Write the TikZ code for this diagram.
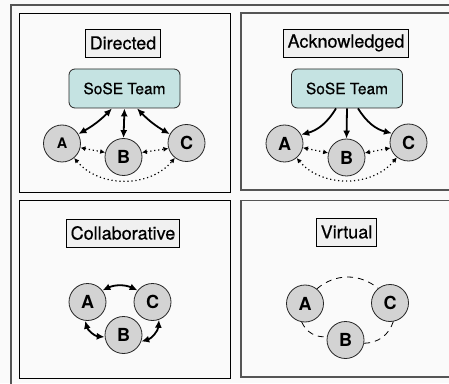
\documentclass[tikz,border=0pt]{standalone}
\usepackage{fontspec}
\setmainfont{TeX Gyre Heros}
\newfontfamily\lblfont{TeX Gyre Heros}[FakeBold=0.5]
\usetikzlibrary{arrows.meta}
\definecolor{bgc}{HTML}{FAFAFA}
\definecolor{lblfill}{HTML}{F0F0F0}
\definecolor{tealfill}{HTML}{C5E3E2}
\definecolor{circfill}{HTML}{D3D3D3}
\definecolor{frameg}{HTML}{555555}
\tikzset{
  panelk/.style={draw=black, line width=0.8pt, fill=bgc},
  panelg/.style={draw=frameg, line width=1.6pt, fill=bgc},
  lbl/.style={draw=black, line width=0.7pt, fill=lblfill, font=\lblfont\fontsize{18}{20}\selectfont,
    minimum height=28pt, inner xsep=4pt, inner ysep=0pt},
  team/.style={draw=black!85, line width=0.8pt, fill=tealfill, rounded corners=6pt,
    minimum width=111pt, minimum height=39pt, inner sep=0pt, font=\lblfont\fontsize{15.5}{17}\selectfont},
  sys/.style={circle, draw=black!85, line width=0.8pt, fill=circfill, minimum size=37pt,
    inner sep=0pt, font=\bfseries\fontsize{18}{20}\selectfont},
  both/.style={line width=1.8pt, {Latex[length=8pt,width=7pt]}-{Latex[length=8pt,width=7pt]}},
  one/.style={line width=1.8pt, -{Latex[length=8pt,width=7pt]}},
  dots/.style={line width=1.2pt, dash pattern=on 1.2pt off 2.8pt,
    {Latex[length=5pt,width=5pt]}-{Latex[length=5pt,width=5pt]}},
  dash4/.style={line width=0.8pt, dash pattern=on 6pt off 5pt},
  outerframe/.style={draw=frameg, line width=1.4pt}
}
\begin{document}
\begin{tikzpicture}[x=1pt,y=1pt]
\path[use as bounding box, fill=bgc] (0,0) rectangle (449,383);
\clip (0,0) rectangle (449,383);
\draw[outerframe] (11,-10) |- (470,378);
% panels
\draw[panelk] (19,191) rectangle (230,370);
\draw[panelg] (241,193) rectangle (470,370);
\draw[panelk] (19,5) rectangle (230,182.5);
\draw[panelg] (241,6) rectangle (470,182.5);

% ---- Directed
\node[lbl] (ldir) at (123,340) {Directed};
\node[team] (t1) at (124.5,294.5) {SoSE Team};
\node[sys, font=\bfseries\fontsize{14.5}{16}\selectfont] (A1) at (62,239.5) {A};
\node[sys] (B1) at (123.5,226) {B};
\node[sys] (C1) at (186.5,240) {C};
\draw[both] ([xshift=-12.5pt]t1.south) to[bend left=8] (A1.30);
\draw[both] (t1.south) -- (B1.north);
\draw[both] ([xshift=12.5pt]t1.south) to[bend right=8] (C1.152);
\draw[dots] (A1.-13) -- (B1.166);
\draw[dots] (B1.14) -- (C1.-163);
\draw[dots] (A1.-50) to[bend right=50] (C1.-128);

% ---- Acknowledged
\node[lbl] (lack) at (346,340) {Acknowledged};
\node[team] (t2) at (347,294.5) {SoSE Team};
\node[sys] (A2) at (284.5,239.5) {A};
\node[sys] (B2) at (346.5,225.5) {B};
\node[sys] (C2) at (408.5,240.5) {C};
\draw[one] ([xshift=-11pt]t2.south) to[bend left=22] (A2.28);
\draw[one] (t2.south) -- (B2.north);
\draw[one] ([xshift=11pt]t2.south) to[bend right=22] (C2.151);
\draw[dots] (A2.-13) -- (B2.166);
\draw[dots] (B2.14) -- (C2.-163);
\draw[dots] (A2.-50) to[bend right=50] (C2.-128);

% ---- Collaborative
\node[lbl] (lcol) at (123,150) {Collaborative};
\node[sys] (A3) at (87.5,81) {A};
\node[sys] (C3) at (152.5,81) {C};
\node[sys] (B3) at (123.5,48) {B};
\draw[both] (A3.38) to[bend left=25] (C3.142);
\draw[both] (A3.-97) to[bend right=35] (B3.-174);
\draw[both] (B3.-20) to[bend right=35] (C3.-70);

% ---- Virtual
\node[lbl] (lvir) at (346.5,151) {Virtual};
\node[sys] (A4) at (305,79.5) {A};
\node[sys] (C4) at (390,80) {C};
\node[sys] (B4) at (345.5,43) {B};
\draw[dash4] (A4.51) to[bend left=40] (C4.129);
\draw[dash4] (A4.-100) to[bend right=35] (B4.170);
\draw[dash4] (B4.-10) to[bend right=35] (C4.-80);
\end{tikzpicture}
\end{document}
